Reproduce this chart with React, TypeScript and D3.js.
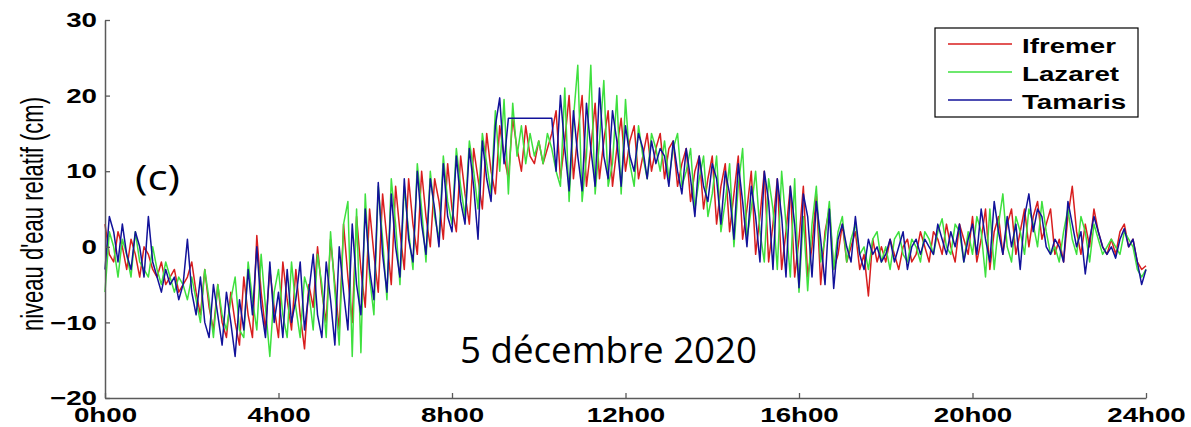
import React, { useRef, useEffect } from 'react';
import * as d3 from 'd3';

// water level (cm), one value every 6 minutes from 0h00 to 24h00
const STEP_MIN = 6;

const ifremer = [
  3, -1, -2, 2, 0, -3, 1, -1, -4, 0,
  -1, -3, -4, -2, -5, -4, -3, -6, -5, -4,
  -2, -6, -9, -3, -8, -11, -5, -10, -12, -6,
  -10, -13, -4, -9, -12, 1.5, -6, -11, -3, -8,
  -12, -2, -7, -11, -3, -9, -13.5, -5, -8, 0,
  -6, -10, 1, -5, -11, 3, -4, -10, 4, -3,
  -8, 5, -1, -6, 7, 1, -5, 8, 2, -3,
  9, 3, -1, 10, 4, 0, 9, 6, 1, 11,
  5, 2, 12, 7, 3, 13, 9, 5, 15, 10,
  7, 16, 12, 9, 17, 13, 10, 16, 12, 11,
  14, 11, 13, 15, 18, 9, 14, 20, 9, 15,
  20, 8, 13, 19, 9, 14, 18, 8, 13, 17,
  10, 14, 16, 9, 12, 15, 10, 13, 15, 9,
  13, 14, 8, 11, 13, 6, 10, 12, 5, 9,
  12, 3, 8, 11, 2, 7, 12, 1, 5, 10,
  -1, 4, 10, -2, 3, 9, -3, 2, 8, -4,
  1, 8, -4, 0, 7, -5, 2, 5, -3, -1,
  3, -2, 0, 2, -3, -1, -6.5, 1, -2, 0,
  -2, 1, -1, -3, 0, 1, -2, -1, 2, 0,
  -2, 2, 1, -1, 3, 0, -2, 3, 1, -1,
  4, -2, 1, 5, -3, 2, 4, -1, 3, 5,
  -1, 2, 5, 0, 4, 6, 1, 3, 5, -1,
  1, -2, 4, 8, 2, -1, 3, 0, 5, 2,
  0, -1, 1, -1, 2, 3, 0, 1, -2, -3,
  -2.5
];

const lazaret = [
  -6, 2, 0, -4, 1, -1, -4, 2, -2, -3,
  -4, 0, -3, -5, -2, -4, -6, -4, -5, -7,
  -4, -7, -10, -3, -7, -12, -5, -9, -11, -7,
  -4, -11, -12, -2, -7, -11, -1, -8, -14.5, -6,
  -3, -9, -12, -2, -8, -12, -4, -6, -11, -1,
  -5, -12, 2, -6, -13, 3, 6, -14.5, 5, -14,
  7, -4, -9, 8, 1, -7, 9, 3, -5, 8,
  2, -3, 11, 5, -2, 10, 4, 1, 12, 6,
  3, 13, 8, 4, 14, 10, 5, 15, 11, 7,
  18, 10, 19.5, 7, 19, 12, 16, 11, 15, 12,
  14, 11, 15, 13, 10, 8, 21, 6, 17, 24,
  6, 12, 24, 7, 14, 22, 8, 11, 20, 7,
  19.5, 11, 8, 16, 12, 9, 15, 13, 10, 14,
  9, 13, 15, 8, 10, 13, 5, 9, 12, 4,
  7, 12, 2, 6, 11, 0, 8, 13, 1, 5,
  10, 2, -2, 9, 5, -3, 10, 3, -4, 9,
  -6, 4, -5.8, 3, 8, -2, 1, 6, -3, 2,
  4, -2, 1, 3, -1, 0, -3, 1, 2, -2,
  0, -3, 1, 2, -1, -2, 1, 0, -2, 2,
  1, -1, 2, 3.7, 0, -1, 3, 2, -2, 2,
  -1, 4, 2, -4, 5, -3, 3, 7, 0, -2,
  4, 2, -1, 5, 3, 0, 6, 2, -1, 0,
  -2, 2, 5, 1, -1, 4, 2, -2, 3, 1,
  -1, 0, 1, 0, -1, 2, 1, 0, -3, -4,
  -3
];

const tamaris = [
  -3, 4, 2, -2, 3, -1, -3, 2, 0, -4,
  4, -2, -4, -6, -3, -5, -4, -7, -5, 1,
  -6, -9, -4, -10, -12, -5, -9, -13, -6, -10,
  -14.5, -7, -11, -3, -9, 0, -8, -12, -2, -10,
  -6, -12, -3, -10, -7, -2, -11, -6, -1, -9,
  -12, -2, -7, -13, 0, -6, -11, 3, -5, -9,
  5, -3, -7, 8.5, -1, -6, 7, 0, -4, 9,
  1, -2, 10, 3, -1, 9, 5, 0, 11, 4,
  2, 12, 6, 3, 13, 8, 1, 14, 9, 6,
  16, 19.7, 11, 17, 17, 17, 17, 17, 17, 17,
  17, 17, 17, 17, 10, 20, 13, 7.4, 18, 12,
  7.4, 19, 13, 8, 21, 12, 9, 18, 14, 8,
  16, 12, 10, 15, 13, 9, 14, 11, 13, 12,
  8, 14, 10, 7, 13, 9, 4, 12, 8, 6,
  11, 9, 3, 10, 7, 1, 11, 6, 0, 8,
  4, -2, 10, 6, -3, 9, 4, -4, 8, 3,
  -5.4, 7, 4, -4, 6, 1, -5, 5, -5.5, 1,
  3, 0, -2, 4, -1, -3, 1, -1, 0, -2,
  -1, 1, -2, 0, 2, -3, 0, 1, -1, 1,
  0, -1, 3, 1, -1, 2, 0, 3, -2, 1,
  3, -1, 5, 1, -2, 6, 2, -1, 4, 0,
  3, -3, 4, 7, 2, 5, 4, 0, -1, 1,
  0, -2, 6, 3, 0, 2, -3.6, 1, 4, 2,
  0, -1, 0, -1.5, 1, 2.4, 0, 1, -2, -5,
  -3
];

const seriesNames = ['Ifremer', 'Lazaret', 'Tamaris'];
const seriesColors = ['#d81e1e', '#3ee03e', '#12129a'];
const seriesValues = [ifremer, lazaret, tamaris];

const xTicks = [0, 240, 480, 720, 960, 1200, 1440];
const xTickLabels = ['0h00', '4h00', '8h00', '12h00', '16h00', '20h00', '24h00'];
const yTicks = [-20, -10, 0, 10, 20, 30];

const SX = 1.32; // the original figure is stretched horizontally
const FONT = '"Liberation Sans", Arial, sans-serif';

function App() {
  const xAxisRef = useRef(null);
  const yAxisRef = useRef(null);

  const x = d3.scaleLinear().domain([0, 1440]).range([105, 1146]);
  const y = d3.scaleLinear().domain([-20, 30]).range([398, 20]);

  const line = d3.line()
    .x((d, i) => x(i * STEP_MIN))
    .y(d => y(d));

  useEffect(() => {
    const xAxis = d3.axisBottom(x)
      .tickValues(xTicks)
      .tickFormat((d, i) => xTickLabels[i])
      .tickSizeInner(-5).tickSizeOuter(0).tickPadding(9);
    const gx = d3.select(xAxisRef.current).call(xAxis);
    gx.select('.domain').attr('stroke', '#5a5a5a').attr('stroke-width', 1.5);
    gx.selectAll('.tick line').attr('stroke', '#5a5a5a').attr('stroke-width', 1.3);
    gx.selectAll('.tick text')
      .attr('fill', '#000').attr('font-size', 21).attr('font-weight', 'bold')
      .attr('font-family', FONT).attr('transform', `scale(${SX},1)`);

    const yAxis = d3.axisLeft(y)
      .tickValues(yTicks)
      .tickSizeInner(-5).tickSizeOuter(0).tickPadding(8 / SX);
    const gy = d3.select(yAxisRef.current).call(yAxis);
    gy.select('.domain').attr('stroke', '#5a5a5a').attr('stroke-width', 1.5);
    gy.selectAll('.tick line').attr('stroke', '#5a5a5a').attr('stroke-width', 1.3);
    gy.selectAll('.tick text')
      .attr('fill', '#000').attr('font-size', 21).attr('font-weight', 'bold')
      .attr('font-family', FONT).attr('transform', `scale(${SX},1)`);
  });

  return (
    <svg width={1191} height={427} style={{ position: 'absolute', left: 0, top: 0, background: '#fff' }}>
      {seriesValues.map((vals, k) => (
        <path key={seriesNames[k]} d={line(vals)} fill="none"
          stroke={seriesColors[k]} strokeWidth={1.5} strokeLinejoin="round" />
      ))}
      <g ref={yAxisRef} transform="translate(105,0)" />
      <g ref={xAxisRef} transform="translate(0,398)" />

      <text transform={`translate(43,214) scale(1.45,1) rotate(-90)`} textAnchor="middle"
        fontFamily={FONT} fontSize={22} fill="#000">niveau d'eau relatif (cm)</text>

      <text x={135} y={190} fontFamily='"Open Sans", sans-serif' fontSize={34}
        textLength={45} lengthAdjust="spacingAndGlyphs" fill="#000">(c)</text>
      <text x={460} y={363} fontFamily='"Open Sans", sans-serif' fontSize={36}
        textLength={297} lengthAdjust="spacingAndGlyphs" fill="#000">5 décembre 2020</text>

      <g>
        <rect x={935} y={28} width={203} height={89} fill="#fff" stroke="#000" strokeWidth={1.2} />
        {seriesNames.map((name, k) => (
          <g key={name}>
            <line x1={948} x2={1012} y1={44 + k * 28} y2={44 + k * 28}
              stroke={seriesColors[k]} strokeWidth={1.3} />
            <text transform={`translate(1022,${52.5 + k * 28.3}) scale(${SX},1)`}
              fontFamily={FONT} fontSize={21} fontWeight="bold" fill="#000">{name}</text>
          </g>
        ))}
      </g>
    </svg>
  );
}

export default App;
